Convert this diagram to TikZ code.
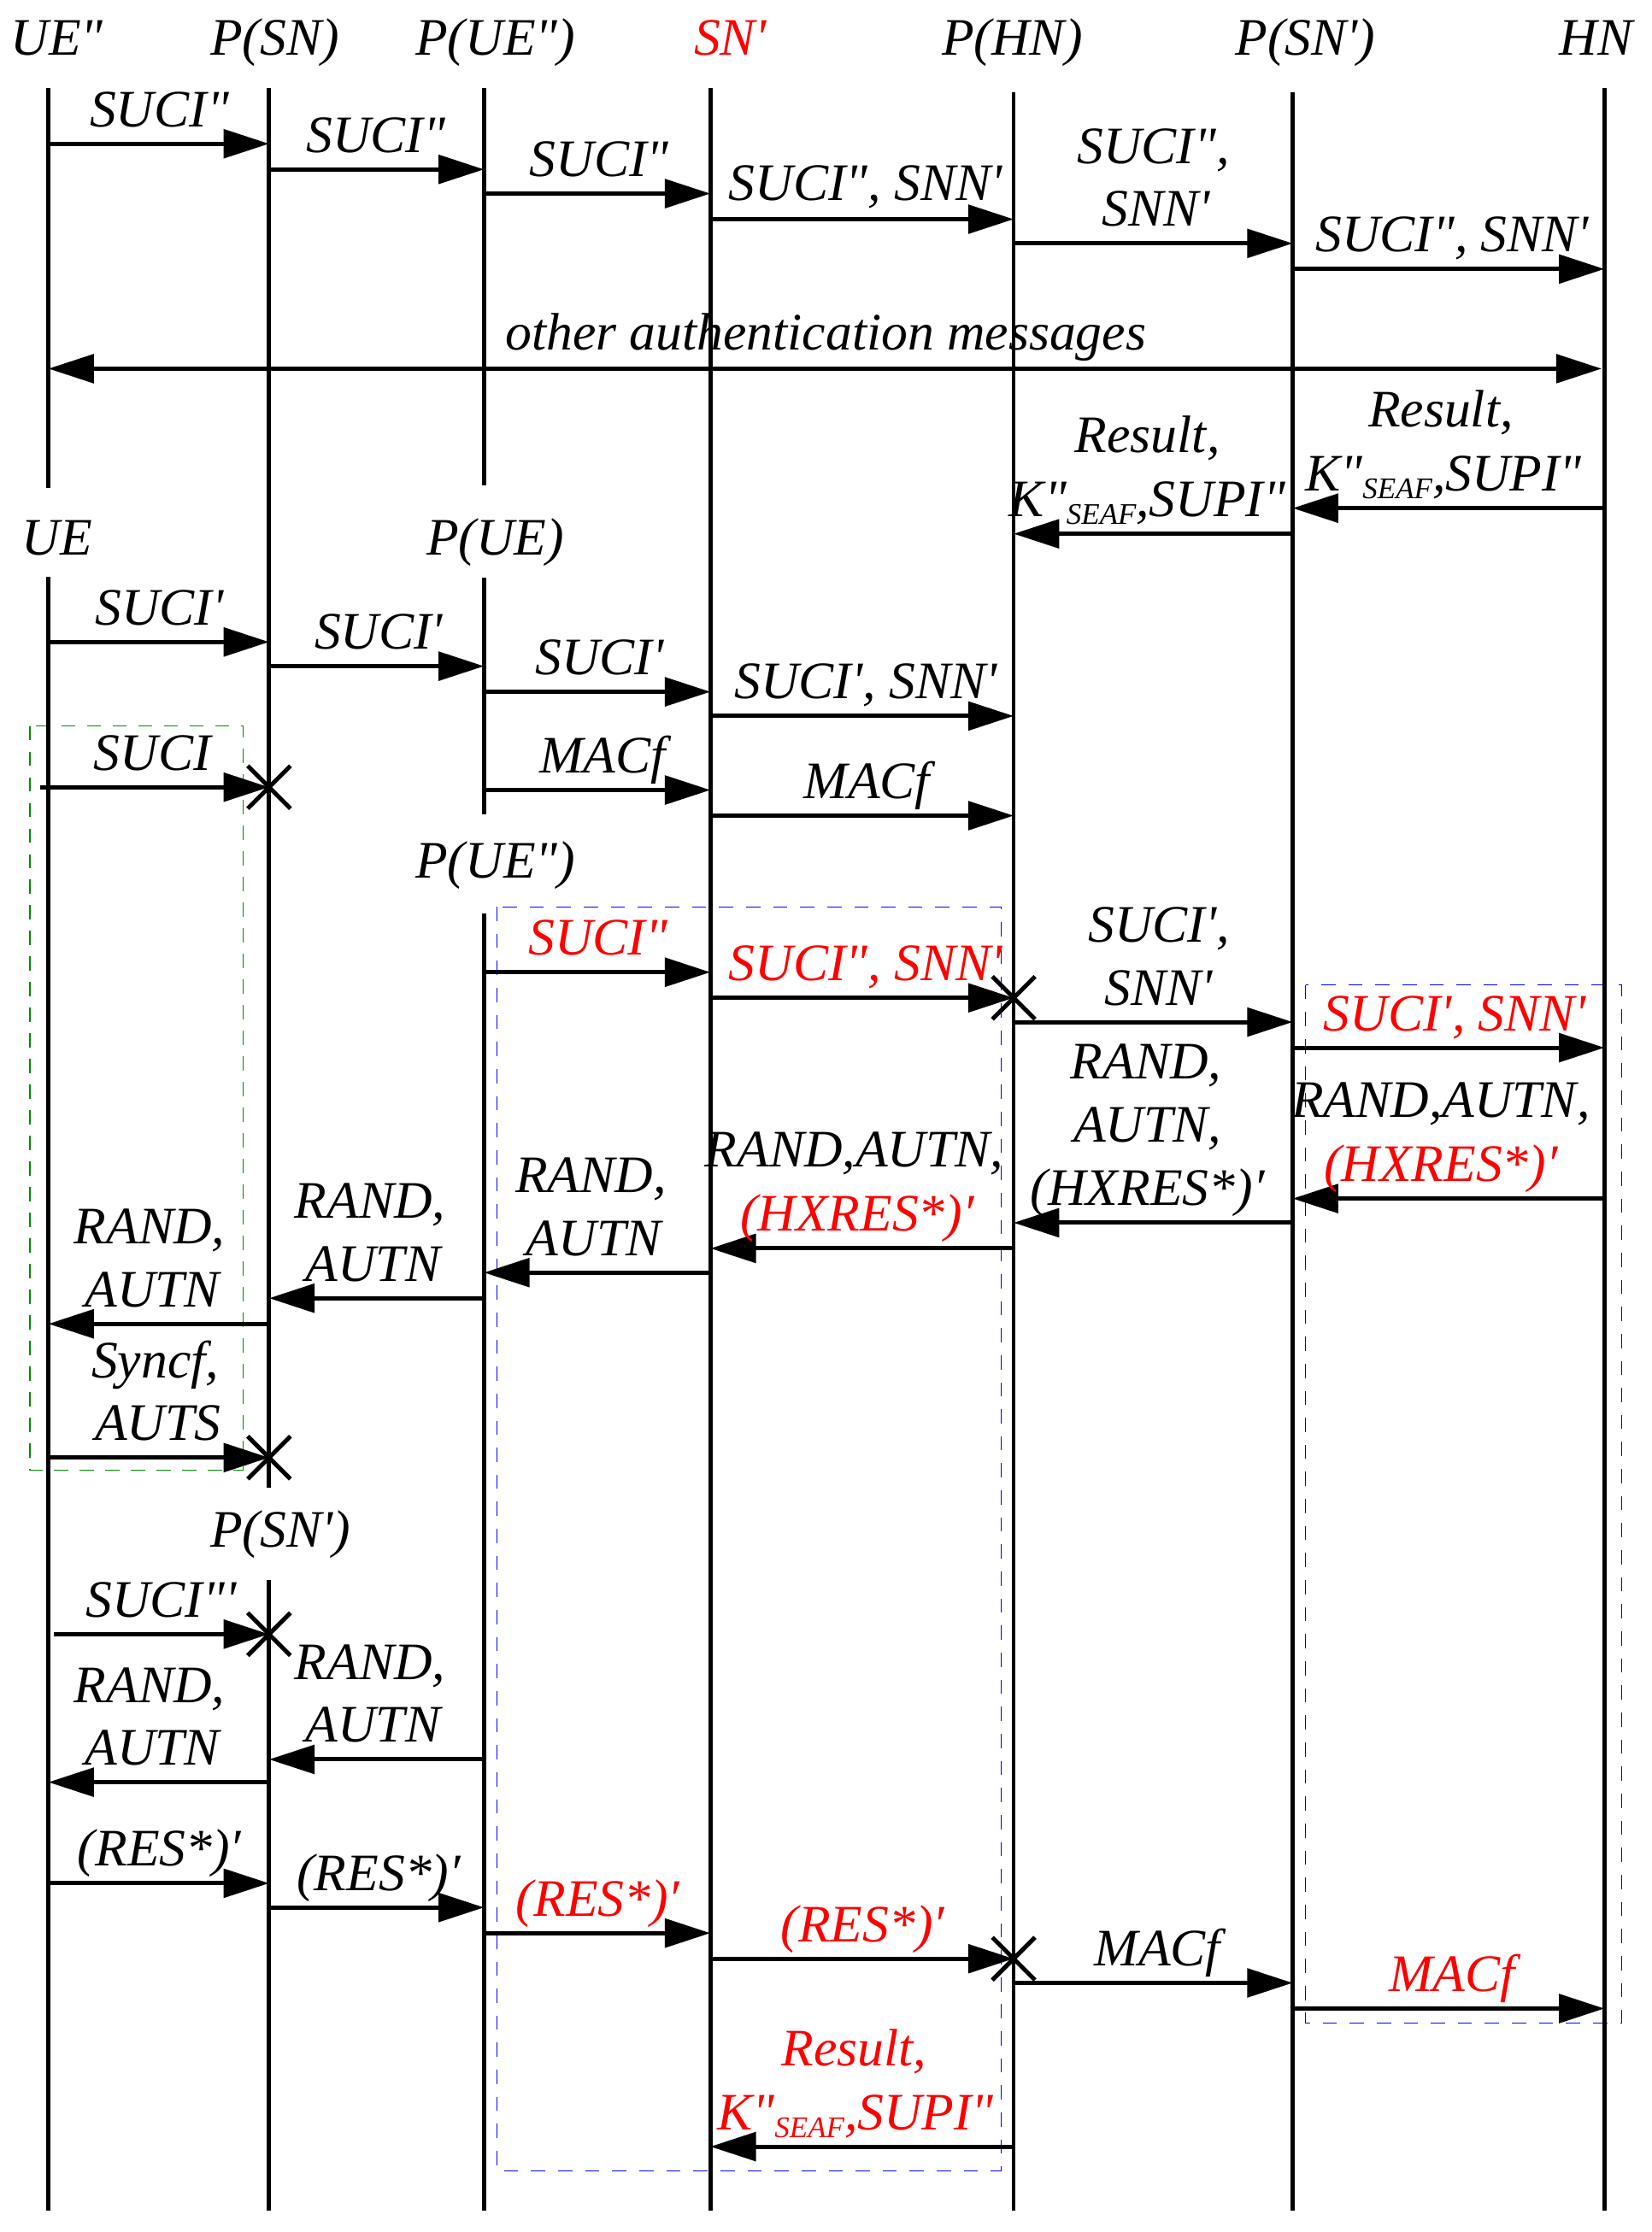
\documentclass[tikz,border=0pt]{standalone}
\usepackage{fontspec}
\setmainfont{Liberation Serif}
\usetikzlibrary{arrows.meta,shapes.misc}
\definecolor{boxgreen}{RGB}{0,140,0}
\definecolor{boxblue}{RGB}{0,0,255}
\definecolor{txtred}{RGB}{255,0,0}
\newcommand\pr{\textquotesingle}
\newcommand\dpr{\textquotedbl}
\newcommand\seaf{\raisebox{-2.7pt}{\fontsize{10.5}{10.5}\selectfont SEAF}}
% message: name, from-lifeline, to-lifeline, y
\newcommand\Msg[4]{%
  \coordinate (#1s) at (#2 |- 0,#4);
  \coordinate (#1e) at (#3 |- 0,#4);
  \draw[msg] (#1s) -- (#1e);}
\begin{document}
\begin{tikzpicture}[x=0.5pt,y=-0.5pt,
  lifeline/.style={line width=1.45pt},
  tip/.tip={Triangle[length=16pt,width=10pt]},
  msg/.style={line width=1.5pt,-tip},
  lbl/.style={anchor=base,inner sep=0pt,font=\itshape\fontsize{18.5}{22}\selectfont},
  rlbl/.style={lbl,text=txtred},
  xmark/.style={cross out,draw,line width=1.5pt,minimum width=13.5pt,minimum height=13.5pt,inner sep=0pt},
  grbox/.style={draw=boxgreen,line width=0.35pt,dash pattern=on 5pt off 4pt},
  blbox/.style={draw=boxblue,line width=0.35pt,dash pattern=on 5pt off 4.5pt}]
\useasboundingbox (0,0) rectangle (1160,1568);

% lifeline x positions
\coordinate (xUE) at (34,0);
\coordinate (xPSN) at (189,0);
\coordinate (xPUE) at (340,0);
\coordinate (xSN) at (499,0);
\coordinate (xPHN) at (712,0);
\coordinate (xPSNp) at (908,0);
\coordinate (xHN) at (1127,0);

% dashed boxes
\draw[grbox] (21,510) rectangle (171,1033);
\draw[blbox] (349,637) rectangle (703,1525);
\draw[blbox] (917,692) rectangle (1139,1421);

% headers
\node[lbl] (hUEpp) at (40,39) {UE\dpr};
\node[lbl] (hPSN) at (193,39) {P(SN)};
\node[lbl] (hPUEpp) at (348,39) {P(UE\dpr)};
\node[rlbl] (hSNp) at (513,39) {SN\pr};
\node[lbl] (hPHN) at (711,39) {P(HN)};
\node[lbl] (hPSNp) at (917,39) {P(SN\pr)};
\node[lbl] (hHN) at (1121,39) {HN};
\node[lbl] (hUE) at (40,390) {UE};
\node[lbl] (hPUE) at (348,390) {P(UE)};
\node[lbl] (hPUEpp2) at (348,617) {P(UE\dpr)};
\node[lbl] (hPSNp2) at (197,1087) {P(SN\pr)};

% lifelines
\coordinate (l1a) at (34,62);   \coordinate (l1b) at (34,343);
\coordinate (l1c) at (34,405);  \coordinate (l1d) at (34,1553);
\coordinate (l2a) at (189,62);  \coordinate (l2b) at (189,1045);
\coordinate (l2c) at (189,1110);\coordinate (l2d) at (189,1553);
\coordinate (l3a) at (340,62);  \coordinate (l3b) at (340,341);
\coordinate (l3c) at (340,406); \coordinate (l3d) at (340,572);
\coordinate (l3e) at (340,642); \coordinate (l3f) at (340,1553);
\coordinate (l4a) at (499,62);  \coordinate (l4b) at (499,1553);
\coordinate (l5a) at (712,65);  \coordinate (l5b) at (712,1553);
\coordinate (l6a) at (908,65);  \coordinate (l6b) at (908,1553);
\coordinate (l7a) at (1127,62); \coordinate (l7b) at (1127,1553);
\draw[lifeline] (l1a) -- (l1b) (l1c) -- (l1d);
\draw[lifeline] (l2a) -- (l2b) (l2c) -- (l2d);
\draw[lifeline] (l3a) -- (l3b) (l3c) -- (l3d) (l3e) -- (l3f);
\draw[lifeline] (l4a) -- (l4b);
\draw[lifeline] (l5a) -- (l5b);
\draw[lifeline] (l6a) -- (l6b);
\draw[lifeline] (l7a) -- (l7b);

% ---- section 1
\Msg{m1}{xUE}{xPSN}{101}
\node[lbl] (t1) at (112,89) {SUCI\dpr};
\Msg{m2}{xPSN}{xPUE}{119}
\node[lbl] (t2) at (264,107) {SUCI\dpr};
\Msg{m3}{xPUE}{xSN}{136}
\node[lbl] (t3) at (421,124) {SUCI\dpr};
\Msg{m4}{xSN}{xPHN}{154}
\node[lbl] (t4) at (608,141) {SUCI\dpr, SNN\pr};
\Msg{m5}{xPHN}{xPSNp}{171}
\node[lbl] (t5a) at (810,115) {SUCI\dpr,};
\node[lbl] (t5b) at (812,159) {SNN\pr};
\Msg{m6}{xPSNp}{xHN}{189}
\node[lbl] (t6) at (1020,177) {SUCI\dpr, SNN\pr};
\coordinate (m7s) at (34,259);
\coordinate (m7e) at (1125,259);
\draw[msg,tip-tip] (m7s) -- (m7e);
\node[lbl] (t7) at (580,246) {other authentication messages};
\Msg{m8}{xHN}{xPSNp}{357}
\node[lbl] (t8a) at (1012,300) {Result,};
\node[lbl] (t8b) at (1014,345) {K\dpr\seaf,SUPI\dpr};
\Msg{m9}{xPSNp}{xPHN}{375}
\node[lbl] (t9a) at (806,318) {Result,};
\node[lbl] (t9b) at (806,363) {K\dpr\seaf,SUPI\dpr};

% ---- section 2
\Msg{m10}{xUE}{xPSN}{451}
\node[lbl] (t10) at (112,439) {SUCI\pr};
\Msg{m11}{xPSN}{xPUE}{468}
\node[lbl] (t11) at (266,456) {SUCI\pr};
\Msg{m12}{xPUE}{xSN}{486}
\node[lbl] (t12) at (421,474) {SUCI\pr};
\Msg{m13}{xSN}{xPHN}{503}
\node[lbl] (t13) at (608,491) {SUCI\pr, SNN\pr};
\coordinate (m14s) at (28,553);
\coordinate (m14e) at (xPSN |- 0,553);
\draw[msg] (m14s) -- (m14e);
\node[xmark] (x1) at (m14e) {};
\node[lbl] (t14) at (107,541) {SUCI};
\Msg{m15}{xPUE}{xSN}{555}
\node[lbl] (t15) at (423,543) {MACf};
\Msg{m16}{xSN}{xPHN}{573}
\node[lbl] (t16) at (609,561) {MACf};

% ---- section 3
\Msg{m17}{xPUE}{xSN}{683}
\node[rlbl] (t17) at (420,671) {SUCI\dpr};
\Msg{m18}{xSN}{xPHN}{701}
\node[xmark] (x2) at (m18e) {};
\node[rlbl] (t18) at (608,689) {SUCI\dpr, SNN\pr};
\Msg{m19}{xPHN}{xPSNp}{718}
\node[lbl] (t19a) at (814,662) {SUCI\pr,};
\node[lbl] (t19b) at (814,706) {SNN\pr};
\Msg{m20}{xPSNp}{xHN}{736}
\node[rlbl] (t20) at (1022,724) {SUCI\pr, SNN\pr};
\Msg{m21}{xHN}{xPSNp}{842}
\node[lbl] (t21a) at (1012,785) {RAND,AUTN,};
\node[rlbl] (t21b) at (1012,830) {(HXRES*)′};
\Msg{m22}{xPSNp}{xPHN}{859}
\node[lbl] (t22a) at (805,758) {RAND,};
\node[lbl] (t22b) at (806,802) {AUTN,};
\node[lbl] (t22c) at (806,847) {(HXRES*)′};
\Msg{m23}{xPHN}{xSN}{877}
\node[lbl] (t23a) at (600,820) {RAND,AUTN,};
\node[rlbl] (t23b) at (602,865) {(HXRES*)′};
\Msg{m24}{xSN}{xPUE}{894}
\node[lbl] (t24a) at (415,838) {RAND,};
\node[lbl] (t24b) at (417,882) {AUTN};
\Msg{m25}{xPUE}{xPSN}{912}
\node[lbl] (t25a) at (260,856) {RAND,};
\node[lbl] (t25b) at (262,900) {AUTN};
\Msg{m26}{xPSN}{xUE}{930}
\node[lbl] (t26a) at (105,874) {RAND,};
\node[lbl] (t26b) at (107,918) {AUTN};
\Msg{m27}{xUE}{xPSN}{1024}
\node[xmark] (x3) at (m27e) {};
\node[lbl] (t27a) at (109,968) {Syncf,};
\node[lbl] (t27b) at (111,1012) {AUTS};
\coordinate (m28s) at (38,1148);
\coordinate (m28e) at (xPSN |- 0,1148);
\draw[msg] (m28s) -- (m28e);
\node[xmark] (x4) at (m28e) {};
\node[lbl] (t28) at (113,1136) {SUCI\dpr\pr};
\Msg{m29}{xPUE}{xPSN}{1236}
\node[lbl] (t29a) at (260,1180) {RAND,};
\node[lbl] (t29b) at (262,1224) {AUTN};
\Msg{m30}{xPSN}{xUE}{1252}
\node[lbl] (t30a) at (105,1196) {RAND,};
\node[lbl] (t30b) at (107,1240) {AUTN};
\Msg{m31}{xUE}{xPSN}{1323}
\node[lbl] (t31) at (112,1311) {(RES*)′};
\Msg{m32}{xPSN}{xPUE}{1340}
\node[lbl] (t32) at (266,1328) {(RES*)′};
\Msg{m33}{xPUE}{xSN}{1358}
\node[rlbl] (t33) at (420,1346) {(RES*)′};
\Msg{m34}{xSN}{xPHN}{1376}
\node[xmark] (x5) at (m34e) {};
\node[rlbl] (t34) at (606,1364) {(RES*)′};
\Msg{m35}{xPHN}{xPSNp}{1393}
\node[lbl] (t35) at (813,1381) {MACf};
\Msg{m36}{xPSNp}{xHN}{1411}
\node[rlbl] (t36) at (1020,1399) {MACf};
\Msg{m37}{xPHN}{xSN}{1508}
\node[rlbl] (t37a) at (600,1451) {Result,};
\node[rlbl] (t37b) at (601,1496) {K\dpr\seaf,SUPI\dpr};
\end{tikzpicture}
\end{document}
